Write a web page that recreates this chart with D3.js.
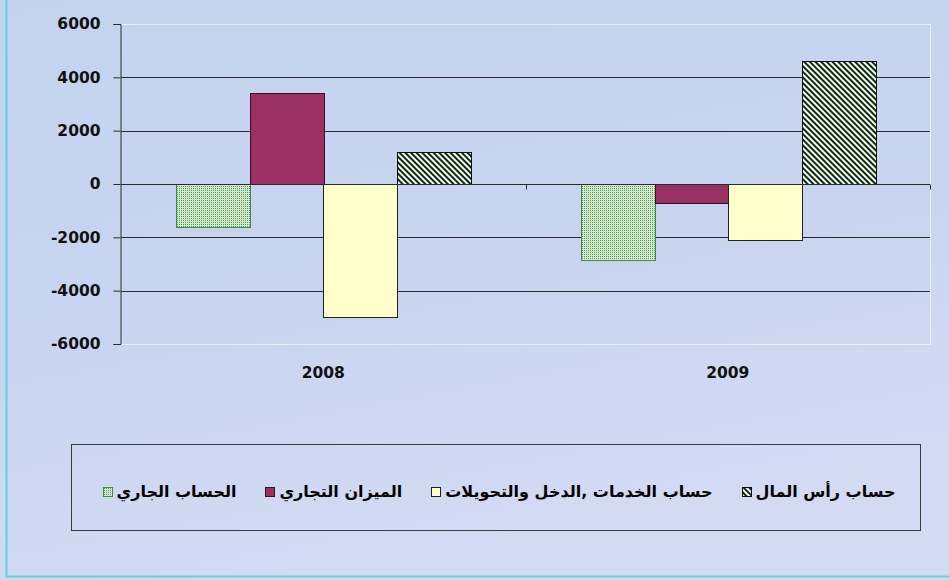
<!DOCTYPE html>
<html>
<head>
<meta charset="utf-8">
<script src="https://cdn.jsdelivr.net/npm/d3@7"></script>
<style>
  body { margin: 0; background: #fff; }
  svg { display: block; }
</style>
</head>
<body>
<div id="chart"></div>
<script>
// categories and series
const YEARS = ["2008", "2009"];
const SERIES_NAMES = [
    "الحساب الجاري",
    "الميزان التجاري",
    "حساب الخدمات ,الدخل والتحويلات",
    "حساب رأس المال"
];
const CURRENT_ACCOUNT = [-1600, -2850];
const TRADE_BALANCE = [3430, -700];
const SERVICES_INCOME = [-5000, -2100];
const CAPITAL_ACCOUNT = [1200, 4630];
const Y_TICKS = [-6000, -4000, -2000, 0, 2000, 4000, 6000];

const SERIES_VALUES = [CURRENT_ACCOUNT, TRADE_BALANCE, SERVICES_INCOME, CAPITAL_ACCOUNT];
const FILLS = ["url(#dots)", "#9b3163", "#ffffcc", "url(#hatch)"];
const STROKES = ["#3f8f3f", "#3a1020", "#222", "#111"];

const W = 949, H = 580;
const PLOT = { left: 121, right: 930, top: 24, bottom: 344 };

const svg = d3.select("#chart").append("svg")
    .attr("width", W)
    .attr("height", H);

const defs = svg.append("defs");

// background gradient
const bg = defs.append("linearGradient")
    .attr("id", "bg")
    .attr("x1", 0).attr("y1", 0).attr("x2", 0.3).attr("y2", 1);
bg.append("stop").attr("offset", "0%").attr("stop-color", "#c3d3ee");
bg.append("stop").attr("offset", "60%").attr("stop-color", "#c9d5f0");
bg.append("stop").attr("offset", "100%").attr("stop-color", "#d3dbf3");

// fine dotted green pattern
const dots = defs.append("pattern")
    .attr("id", "dots")
    .attr("patternUnits", "userSpaceOnUse")
    .attr("width", 2).attr("height", 2);
dots.append("rect").attr("width", 2).attr("height", 2).attr("fill", "#d6ebcf");
dots.append("rect").attr("width", 1).attr("height", 1).attr("fill", "#4f944f");

// diagonal hatch pattern
const hatch = defs.append("pattern")
    .attr("id", "hatch")
    .attr("patternUnits", "userSpaceOnUse")
    .attr("width", 4).attr("height", 4)
    .attr("patternTransform", "rotate(-45)");
hatch.append("rect").attr("width", 4).attr("height", 4).attr("fill", "#f4fbef");
hatch.append("rect").attr("width", 2).attr("height", 4).attr("fill", "#0e2a12");

svg.append("rect")
    .attr("width", W).attr("height", H)
    .attr("fill", "url(#bg)");

// outer frame
svg.append("path")
    .attr("d", `M6.5,0 V576.5 H${W}`)
    .attr("fill", "none")
    .attr("stroke", "#62cfe0")
    .attr("stroke-width", 2);

// scales
const x0 = d3.scaleBand()
    .domain(YEARS)
    .range([PLOT.left, PLOT.right])
    .padding(0);

const x1 = d3.scaleBand()
    .domain(d3.range(SERIES_NAMES.length))
    .range([0, x0.bandwidth()])
    .paddingInner(0)
    .paddingOuter(0.75);

const y = d3.scaleLinear()
    .domain([-6000, 6000])
    .range([PLOT.bottom, PLOT.top]);

// plot border (light)
svg.append("path")
    .attr("d", `M${PLOT.left},${PLOT.top + 0.5} H${PLOT.right + 0.5} V${PLOT.bottom + 0.5} H${PLOT.left}`)
    .attr("fill", "none")
    .attr("stroke", "#e6f2f4")
    .attr("stroke-width", 1);

// gridlines
svg.append("g")
    .selectAll("line")
    .data(Y_TICKS.filter(d => d !== -6000 && d !== 6000))
    .enter()
    .append("line")
    .attr("x1", PLOT.left)
    .attr("x2", PLOT.right)
    .attr("y1", d => Math.round(y(d)) + 0.5)
    .attr("y2", d => Math.round(y(d)) + 0.5)
    .attr("stroke", "#2a2a2a")
    .attr("stroke-width", 1);

// bars
const rows = YEARS.map((yr, i) => ({
    year: yr,
    values: SERIES_VALUES.map((s, k) => ({ k, v: s[i] }))
}));

const group = svg.selectAll(".year")
    .data(rows)
    .enter()
    .append("g")
    .attr("class", "year")
    .attr("transform", d => `translate(${Math.round(x0(d.year))},0)`);

group.selectAll("rect")
    .data(d => d.values)
    .enter()
    .append("rect")
    .attr("x", d => Math.round(x1(d.k)) + 0.5)
    .attr("width", Math.round(x1.bandwidth()))
    .attr("y", d => Math.round(y(Math.max(0, d.v))) + 0.5)
    .attr("height", d => Math.round(Math.abs(y(d.v) - y(0))))
    .attr("fill", d => FILLS[d.k])
    .attr("stroke", d => STROKES[d.k])
    .attr("stroke-width", 1);

// category axis on zero line
const xAxis = svg.append("g")
    .attr("transform", `translate(0,${Math.round(y(0)) + 0.5})`);
xAxis.append("line")
    .attr("x1", PLOT.left).attr("x2", PLOT.right)
    .attr("stroke", "#2a2a2a");
xAxis.selectAll(".ctick")
    .data(YEARS)
    .enter()
    .append("line")
    .attr("class", "ctick")
    .attr("x1", d => Math.round(x0(d) + x0.bandwidth()) + 0.5)
    .attr("x2", d => Math.round(x0(d) + x0.bandwidth()) + 0.5)
    .attr("y1", 0).attr("y2", 5)
    .attr("stroke", "#2a2a2a");

// category labels
svg.append("g")
    .selectAll("text")
    .data(YEARS)
    .enter()
    .append("text")
    .attr("x", d => x0(d) + x0.bandwidth() / 2)
    .attr("y", 378)
    .attr("text-anchor", "middle")
    .attr("font-family", "DejaVu Sans, sans-serif")
    .attr("font-weight", "bold")
    .attr("font-size", "15.5px")
    .attr("fill", "#111")
    .text(d => d);

// value axis
const yAxis = svg.append("g")
    .attr("transform", `translate(${PLOT.left - 0.5},0)`)
    .call(d3.axisLeft(y).tickValues(Y_TICKS).tickSize(7).tickPadding(13).tickFormat(d3.format("d")));
yAxis.select(".domain").attr("stroke", "#2a2a2a");
yAxis.selectAll(".tick line").attr("stroke", "#2a2a2a");
yAxis.selectAll(".tick text")
    .attr("font-family", "DejaVu Sans, sans-serif")
    .attr("font-weight", "bold")
    .attr("font-size", "15.5px")
    .attr("fill", "#111")
    .text(d => d < 0 ? "-" + Math.abs(d) : d);

// legend
const LEG = { x: 71.5, y: 444.5, w: 849, h: 86 };
svg.append("rect")
    .attr("x", LEG.x).attr("y", LEG.y)
    .attr("width", LEG.w).attr("height", LEG.h)
    .attr("fill", "none")
    .attr("stroke", "#3a3a3a");

const legend = svg.append("g");
const items = legend.selectAll(".item")
    .data(SERIES_NAMES.map((name, k) => ({ name, k })))
    .enter()
    .append("g")
    .attr("class", "item");

items.append("text")
    .attr("font-family", "DejaVu Sans, sans-serif")
    .attr("font-weight", "bold")
    .attr("font-size", "16px")
    .attr("fill", "#000")
    .attr("direction", "rtl")
    .attr("text-anchor", "start")
    .attr("y", 497)
    .text(d => d.name);

// lay out items left to right: swatch, gap, text, spacing
const SW = 9, GAP = 5, SPACE = 29;
const widths = [];
items.select("text").each(function() { widths.push(this.getComputedTextLength()); });
const total = d3.sum(widths) + widths.length * (SW + GAP) + (widths.length - 1) * SPACE;
let cx = LEG.x + (LEG.w - total) / 2 + 3;
items.each(function(d, i) {
    const g = d3.select(this);
    g.append("rect")
        .attr("x", Math.round(cx) + 0.5).attr("y", 487.5)
        .attr("width", SW).attr("height", SW)
        .attr("fill", FILLS[d.k])
        .attr("stroke", STROKES[d.k]);
    g.select("text").attr("x", cx + SW + GAP + widths[i]);
    cx += SW + GAP + widths[i] + SPACE;
});
</script>
</body>
</html>
